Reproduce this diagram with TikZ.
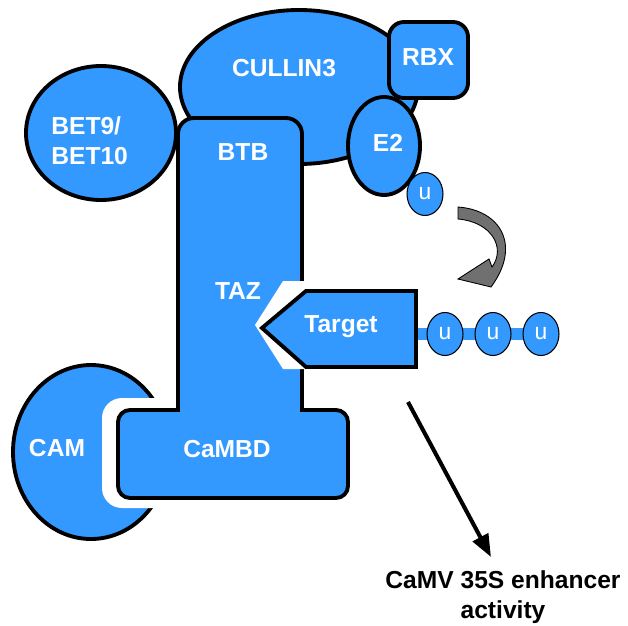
\documentclass[tikz,border=0pt]{standalone}
\usepackage{fontspec}
\setmainfont{Liberation Sans}
\usetikzlibrary{positioning,shapes.geometric,arrows.meta,backgrounds}
\definecolor{proteinBlue}{RGB}{51,153,255}
\definecolor{arrowGray}{RGB}{112,112,112}
\tikzstyle{diagram} = [x = 0.02cm, y = -0.02cm]
\tikzstyle{proteinStyle} = [fill=proteinBlue, draw=black, line width=2.2pt]
\tikzstyle{proteinText} = [text=white, font=\fontsize{14}{17}\selectfont\bfseries, inner sep=0pt]
\tikzstyle{gapStyle} = [fill=white, draw=none]
\tikzstyle{ubqStyle} = [ellipse, fill=proteinBlue, draw=black, line width=0.6pt, minimum width=0.72cm, minimum height=0.86cm, inner sep=0pt, text=white, font=\fontsize{13}{15}\selectfont]
\tikzstyle{chainStyle} = [proteinBlue, line width=0.24cm]
\tikzstyle{bendArrow} = [fill=arrowGray, draw=black, line width=0.5pt]
\tikzstyle{effectArrow} = [line width=2.3pt, -{Triangle[length=0.45cm,width=0.34cm]}]
\tikzstyle{captionText} = [font=\fontsize{14}{17}\selectfont\bfseries, align=center, inner sep=0pt]
\newcommand{\proteinOval}[5]{\filldraw [proteinStyle] (#2,#3) ellipse [x radius=#4, y radius=#5]; \coordinate (#1) at (#2,#3);}

\begin{document}
\begin{tikzpicture}[diagram]
  \useasboundingbox (0,0) rectangle (628,625);
  % cullin complex
  \proteinOval{cullin}{299}{87}{119}{77}
  \proteinOval{betNine}{101}{133}{75}{67}
  \filldraw [proteinStyle, rounded corners=0.3cm] (389,22) rectangle (468,98);
  \proteinOval{ligase}{384}{146}{36}{49}
  \node [ubqStyle] (ubqFree) at (425,194) {u};

  % calmodulin, cut by the gap round CaMBD
  \proteinOval{calmodulin}{91}{452}{78}{87}
  \fill [gapStyle, rounded corners=0.4cm] (102,398) rectangle (200,508);

  % BTB / TAZ / CaMBD body
  \filldraw [proteinStyle] (178,300) [rounded corners=0.32cm] -- (178,118) -- (302,118)
    [sharp corners] -- (302,410) [rounded corners=0.24cm] -- (348,410) -- (348,498)
    -- (118,498) -- (118,410) [sharp corners] -- (178,410) -- cycle;
  \fill [gapStyle] (283,281) -- (310,281) -- (310,369) -- (283,369) -- (255,325) -- cycle;

  % target with ubiquitin chain
  \coordinate (chainStart) at (410,334);
  \foreach \ubqX [count=\i] in {445,493,541} {
    \node [ubqStyle] (ubq\i) at (\ubqX,334) {u};
  }
  \begin{scope}[on background layer]
    \draw [chainStyle] (chainStart) -- (ubq1.center) -- (ubq2.center) -- (ubq3.center);
  \end{scope}
  \filldraw [proteinStyle] (262,328) -- (306,291) -- (416,291) -- (416,367) -- (306,367) -- cycle;

  % labels
  \node [proteinText] (cullinText) at (284,68) {CULLIN3};
  \node [proteinText] (rbxText) at (428,57) {RBX};
  \node [proteinText, align=left, anchor=west] (betText) at (51,141) {BET9/\\BET10};
  \node [proteinText] (ligaseText) at (388,143) {E2};
  \node [proteinText] (btbText) at (243,152) {BTB};
  \node [proteinText] (tazText) at (238,291) {TAZ};
  \node [proteinText] (targetText) at (341,327) {Target};
  \node [proteinText] (camText) at (57,448) {CAM};
  \node [proteinText] (cambdText) at (227,449) {CaMBD};

  % transfer of ubiquitin
  \filldraw [bendArrow] (458,207) .. controls (500,210) and (522,245) .. (491,287)
    -- (458,279) -- (489,259) -- (492,267) .. controls (506,248) and (492,222) .. (458,219) -- cycle;

  % enhancer activity
  \coordinate (arrowStart) at (408,402);
  \coordinate (arrowEnd) at (491,557);
  \draw [effectArrow] (arrowStart) -- (arrowEnd);
  \node [captionText] (enhancerText) at (503,597) {CaMV 35S enhancer\\activity};
\end{tikzpicture}
\end{document}
